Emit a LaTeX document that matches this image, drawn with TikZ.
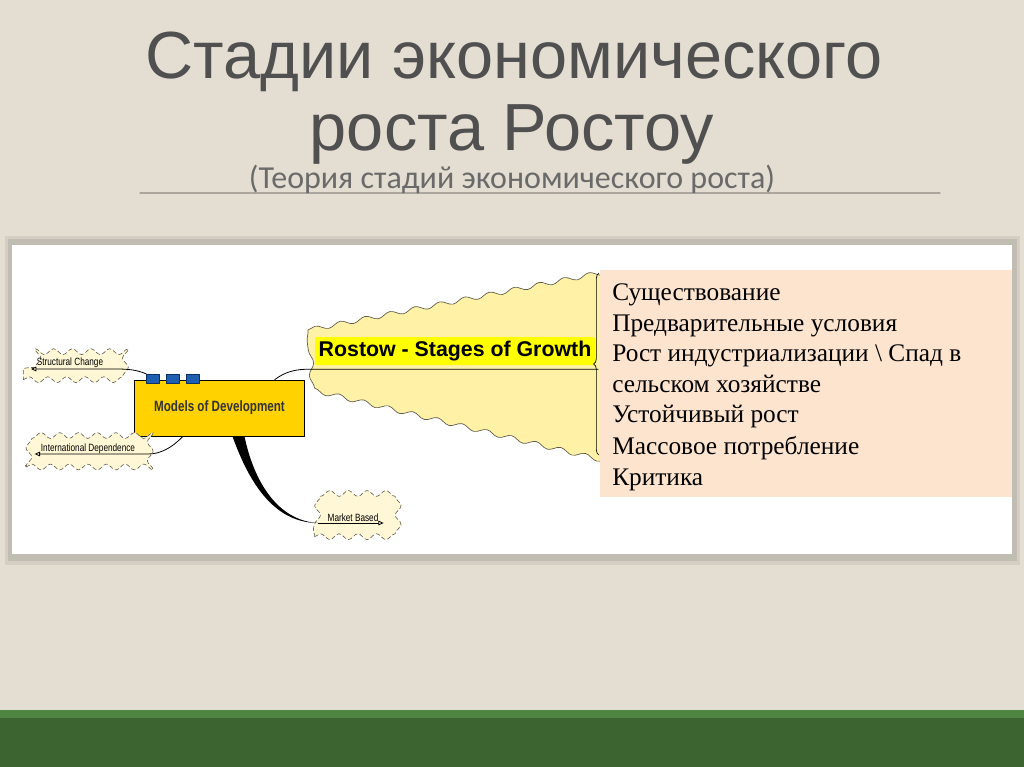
\documentclass[tikz,border=0pt]{standalone}
\usepackage{fontspec}
\setmainfont{Liberation Serif}
\newfontfamily\titlefont{Liberation Sans}
\newfontfamily\subfont{Carlito}
\newfontfamily\mapfont[FakeStretch=0.78]{Liberation Sans}
\newfontfamily\rostowfont{Liberation Sans}
\usetikzlibrary{arrows.meta}
\usetikzlibrary{positioning}
\usetikzlibrary{calc}
\usetikzlibrary{decorations.pathmorphing}
\usetikzlibrary{decorations.pathreplacing}
\definecolor{slidebg}{HTML}{E4DDD1}
\definecolor{titlegray}{HTML}{505050}
\definecolor{subgray}{HTML}{6A6A6A}
\definecolor{rulegray}{HTML}{ABA69D}
\definecolor{panelshade}{HTML}{C2BDB3}
\definecolor{panelshadetwo}{HTML}{D4CEC4}
\definecolor{cloudyellow}{HTML}{FFF1A6}
\definecolor{cloudedge}{HTML}{5E5A48}
\definecolor{labelyellow}{HTML}{FFFF00}
\definecolor{modgold}{HTML}{FFD200}
\definecolor{bluesq}{HTML}{1F5FAF}
\definecolor{bluedark}{HTML}{0C2F6A}
\definecolor{cloudcream}{HTML}{FFF7D6}
\definecolor{peach}{HTML}{FDE4CE}
\definecolor{greenlight}{HTML}{4E8540}
\definecolor{greendark}{HTML}{3C6430}
\tikzset{
  titletext/.style={anchor=base, inner sep=0pt, text=titlegray, font=\titlefont\fontsize{50}{52}\selectfont},
  subtext/.style={anchor=base, inner sep=0pt, text=subgray, font=\subfont\fontsize{24}{26}\selectfont},
  bigcloud/.style={fill=cloudyellow, draw=cloudedge, line width=0.5pt, decorate, decoration={snake, amplitude=1.8pt, segment length=19pt}},
  smallcloud/.style={draw=cloudedge, densely dashed, line width=0.45pt, fill=cloudcream, inner sep=0pt, decorate, decoration={snake, amplitude=2.2pt, segment length=14pt}, font=\mapfont\fontsize{7.9}{9}\selectfont},
  rostowlabel/.style={fill=labelyellow, rounded corners=1.5pt, inner sep=0pt, minimum width=210pt, minimum height=21pt, font=\rostowfont\bfseries\fontsize{16}{18}\selectfont},
  modbox/.style={draw=black, line width=0.6pt, fill=modgold, minimum width=128pt, minimum height=42pt, inner sep=0pt, text=black!80, font=\mapfont\bfseries\fontsize{11.2}{13}\selectfont},
  bluebox/.style={draw=bluedark, fill=bluesq, line width=0.5pt, minimum width=9.5pt, minimum height=7pt, inner sep=0pt},
  mapline/.style={line width=0.6pt, black},
  peachbox/.style={fill=peach, anchor=north west, inner sep=0pt, minimum width=309pt, minimum height=170.25pt},
  stageitem/.style={anchor=base west, inner sep=0pt, font=\fontsize{19}{22}\selectfont}
}
\begin{document}
\begin{tikzpicture}[x=0.75pt,y=-0.75pt,line cap=round,line join=round,>={Triangle[open,length=4pt,width=3.5pt]}]
\fill[slidebg] (0,0) rectangle (1024,767);
\useasboundingbox (0,0) rectangle (1024,767);
% title
\draw[rulegray, line width=0.8pt] (140,193) -- (940,193);
\node[titletext] (title1) at (514,79) {Стадии экономического};
\node[titletext] (title2) at (512,150) {роста Ростоу};
\node[subtext] (subtitle) at (512,188) {(Теория стадий экономического роста)};
% panel
\fill[panelshadetwo] (5,236) rectangle (1020,565);
\fill[panelshade] (8,239) rectangle (1017,561);
\fill[white] (12,245) rectangle (1012,554);
% mind map
\path[bigcloud] (308,330) -- (600,273) -- (990,277) -- (990,460) -- (600,455) -- (310,385) -- cycle;
\node[rostowlabel] (rostow) at (455,351) {Rostow - Stages of Growth};
\node[modbox] (mod) at (219.5,408) {Models of Development};
\foreach \i/\bx in {1/153,2/173,3/193}
  \node[bluebox] (sq\i) at (\bx,379) {};
\node[smallcloud, minimum width=70pt, minimum height=25pt] (sc) at (70,363) {Structural Change};
\node[smallcloud, minimum width=93pt, minimum height=27pt] (id) at (88,449) {International Dependence};
\node[smallcloud, minimum width=57.5pt, minimum height=28pt] (mb) at (353,518) {Market Based};
\draw[mapline,->] (sq1.north west) .. controls (138,370) and (128,369) .. ($(sc.east)+(0,6)$) -- ($(sc.west)+(8,6)$);
\draw[mapline,->] ($(mod.south west)+(49,0)$) .. controls (172,448) and (160,454) .. ($(id.east)+(-2,5)$) -- ($(id.west)+(9,5)$);
\draw[mapline] ($(mod.north west)+(141,0)$) .. controls (285,372) and (295,369) .. ($(rostow.south west)+(-5,4)$) -- ($(rostow.south east)+(3,4)$);
\fill[black] ($(mod.south)+(13,0)$) .. controls (250,485) and (275,523) .. ($(mb.west)+(4,5)$) .. controls (278,521) and (254,482) .. ($(mod.south)+(25,0)$) -- cycle;
\draw[mapline,->] ($(mb.west)+(4,5)$) -- ($(mb.east)+(-8,5)$);
% stages list
\node[peachbox] (stages) at (600,270) {};
\draw[mapline, line width=0.5pt, decorate, decoration={brace, amplitude=4pt}] ($(stages.north west)+(-1,185)$) -- ($(stages.north west)+(-1,3)$);
\foreach \yy/\txt in {300/Существование, 331/Предварительные условия, 361/Рост индустриализации \textbackslash{} Спад в, 392/сельском хозяйстве, 422/Устойчивый рост, 454/Массовое потребление, 485/Критика}
  \node[stageitem] (st\yy) at (612,\yy) {\txt};
% footer
\fill[greenlight] (0,710) rectangle (1024,718);
\fill[greendark] (0,718) rectangle (1024,767);
\end{tikzpicture}
\end{document}
